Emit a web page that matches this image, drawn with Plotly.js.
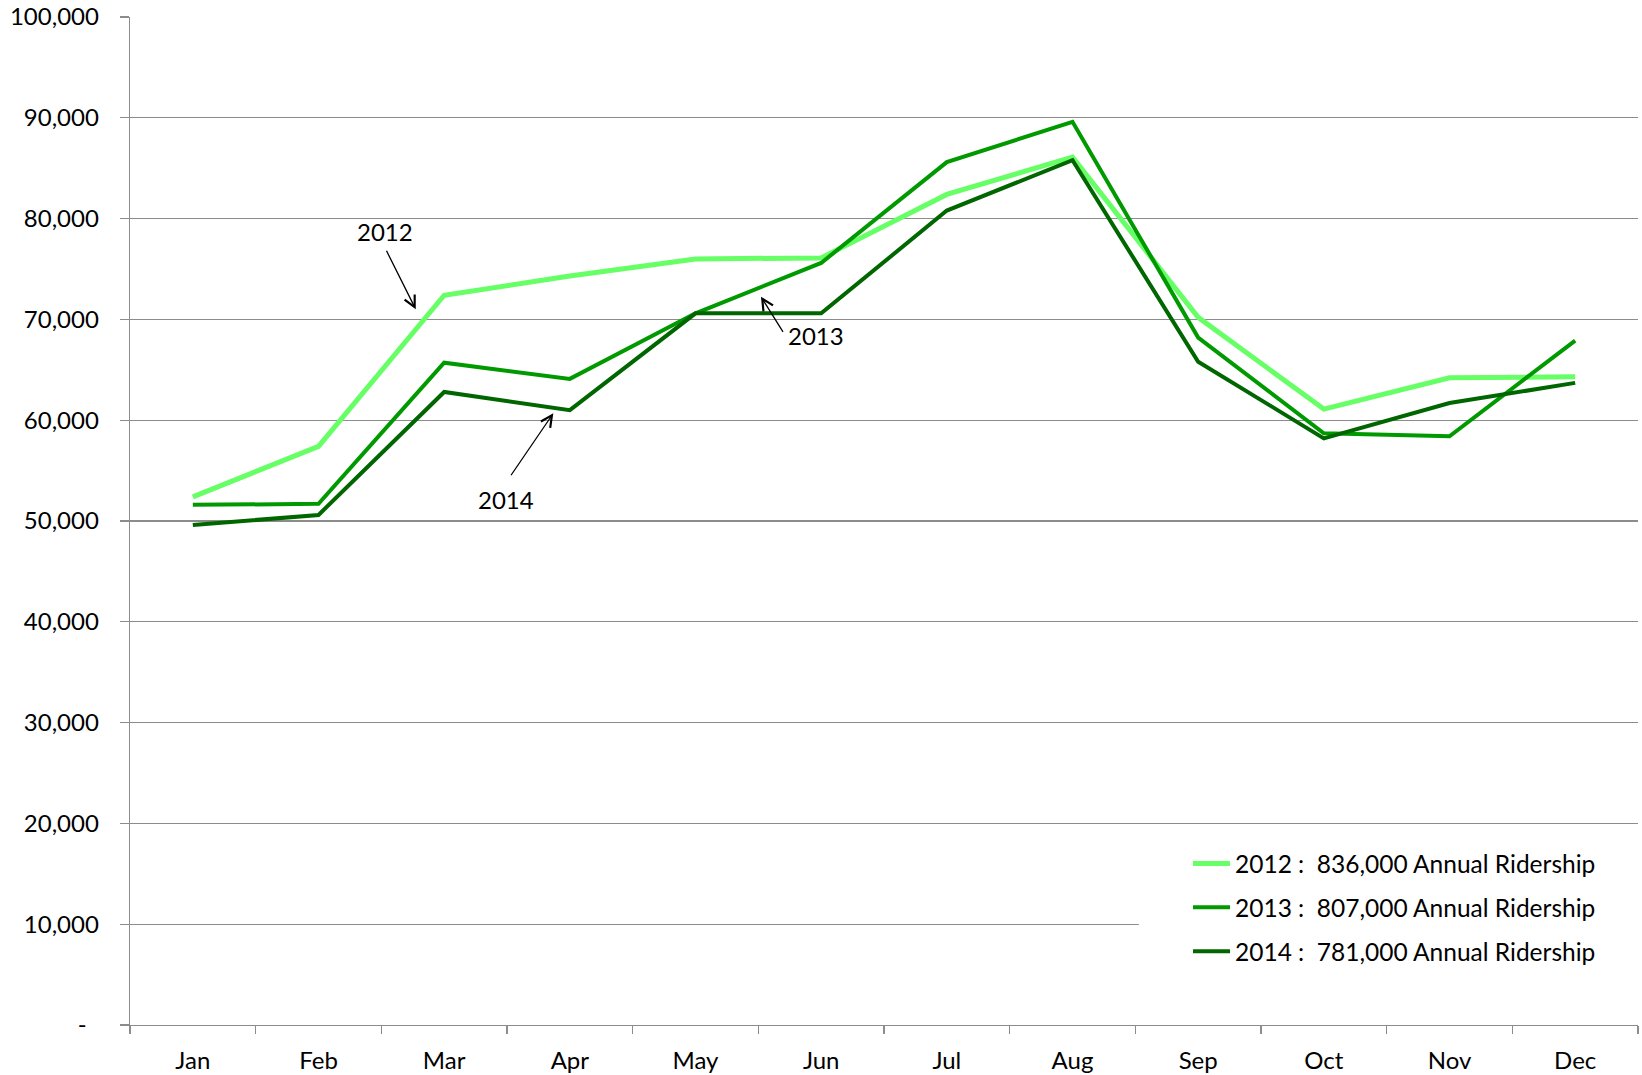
<!DOCTYPE html>
<html>
<head>
<meta charset="utf-8">
<script src="https://cdn.plot.ly/plotly-3.0.1.min.js"></script>
<style>html,body{margin:0;padding:0;background:#fff;}#chart{width:1642px;height:1075px;}</style>
</head>
<body>
<div id="chart"></div>
<script>
const months = ['Jan','Feb','Mar','Apr','May','Jun','Jul','Aug','Sep','Oct','Nov','Dec'];
const ridership2012 = [52400, 57400, 72400, 74300, 76000, 76100, 82400, 86100, 70200, 61100, 64200, 64300];
const ridership2013 = [51600, 51700, 65700, 64100, 70600, 75600, 85600, 89600, 68200, 58700, 58400, 67900];
const ridership2014 = [49600, 50600, 62800, 61000, 70600, 70600, 80800, 85800, 65800, 58200, 61700, 63700];
const seriesNames = ['2012 :  836,000 Annual Ridership', '2013 :  807,000 Annual Ridership', '2014 :  781,000 Annual Ridership'];
const yTickVals = [0, 10000, 20000, 30000, 40000, 50000, 60000, 70000, 80000, 90000, 100000];
const yTickText = ['-\u00a0\u00a0', '10,000', '20,000', '30,000', '40,000', '50,000', '60,000', '70,000', '80,000', '90,000', '100,000'];

const FONT = 'Lato, "Open Sans", sans-serif';
const GRID = '#8c8c8c';

const traces = [
  {x: months, y: ridership2012, name: seriesNames[0], legendgroup: 'a', line: {color: '#66ff66', width: 5}},
  {x: months, y: ridership2013, name: seriesNames[1], legendgroup: 'b', line: {color: '#009a00', width: 4}},
  {x: months, y: ridership2014, name: seriesNames[2], legendgroup: 'c', line: {color: '#006600', width: 4}}
].map(t => Object.assign({type: 'scatter', mode: 'lines', hoverinfo: 'skip'}, t));

function arrow(hx, hy, ax, ay) {
  return {xref: 'paper', yref: 'paper', x: hx, y: hy, ax: ax, ay: ay, text: '',
    showarrow: true, arrowhead: 5, arrowsize: 1.7, arrowwidth: 1.3, arrowcolor: '#000', standoff: 0, startstandoff: 0};
}
function label(tx, ty, txt) {
  return {xref: 'paper', yref: 'paper', x: tx, y: ty, text: txt, showarrow: false,
    xanchor: 'center', yanchor: 'middle', font: {family: FONT, size: 24, color: '#000'}};
}

const layout = {
  width: 1642, height: 1075,
  margin: {l: 130, r: 4, t: 17, b: 50, pad: 0},
  paper_bgcolor: '#fff', plot_bgcolor: '#fff',
  font: {family: FONT, size: 24, color: '#000'},
  showlegend: true,
  legend: {
    x: 0.7016, y: 0.1825, xanchor: 'left', yanchor: 'top',
    bgcolor: 'rgba(0,0,0,0)', borderwidth: 0, traceorder: 'grouped', tracegroupgap: 9,
    itemwidth: 37,
    font: {family: FONT, size: 24.5, color: '#000'}
  },
  shapes: [
    {type: 'rect', layer: 'above', xref: 'paper', yref: 'y', x0: 0.669, x1: 1, y0: 1500, y1: 18500,
     fillcolor: '#fff', line: {width: 0}}
  ],
  xaxis: {
    type: 'category', range: [-0.5, 11.5], fixedrange: true,
    showline: true, linecolor: GRID, linewidth: 1.3,
    showgrid: false, zeroline: false,
    ticks: 'outside', tickson: 'boundaries', ticklen: 8, tickwidth: 1.3, tickcolor: GRID,
    ticklabelstandoff: 14,
    tickfont: {family: FONT, size: 24, color: '#000'}, automargin: false
  },
  yaxis: {
    range: [0, 100000], fixedrange: true,
    tickmode: 'array', tickvals: yTickVals, ticktext: yTickText,
    showline: true, linecolor: GRID, linewidth: 1.3,
    showgrid: true, gridcolor: GRID, gridwidth: 1.3, zeroline: false,
    ticks: 'outside', ticklen: 9, tickwidth: 1.3, tickcolor: GRID,
    ticklabelstandoff: 16,
    tickfont: {family: FONT, size: 24, color: '#000'}, automargin: false
  },
  annotations: [
    arrow(0.1895, 0.7100, -30, -60), label(0.1691, 0.7870, '2012'),
    arrow(0.4184, 0.7225, 23, 36.6), label(0.4549, 0.6845, '2013'),
    arrow(0.2807, 0.6068, -43.3, 63.4), label(0.2493, 0.5218, '2014')
  ]
};

Plotly.newPlot('chart', traces, layout, {displayModeBar: false, staticPlot: true});
</script>
</body>
</html>
